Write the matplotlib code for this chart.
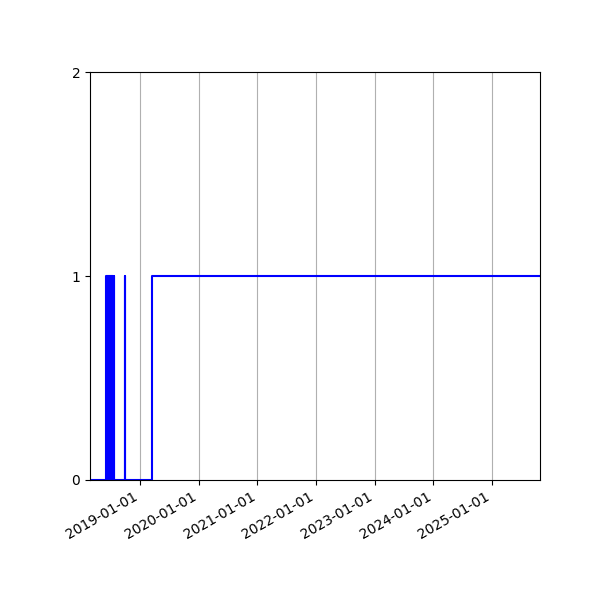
import matplotlib
matplotlib.use("Agg")
import matplotlib.pyplot as plt
import matplotlib.dates as mdates
import pandas as pd

change_dates = [
    "2018-02-24", "2018-06-05", "2018-06-08", "2018-06-11", "2018-06-14",
    "2018-06-17", "2018-06-20", "2018-06-23", "2018-06-26", "2018-06-29",
    "2018-07-02", "2018-07-05", "2018-07-08", "2018-07-11", "2018-07-14",
    "2018-07-17", "2018-07-20", "2018-07-23", "2018-07-25",
    "2018-09-28", "2018-10-01",
    "2019-03-15", "2025-10-25",
]
change_values = [
    0, 1, 0, 1, 0,
    1, 0, 1, 0, 1,
    0, 1, 0, 1, 0,
    1, 0, 1, 0,
    1, 0,
    1, 1,
]

x = pd.to_datetime(change_dates)

fig = plt.figure(figsize=(6, 6), dpi=100)
ax = fig.add_subplot(111)
ax.plot(x, change_values, color="blue", drawstyle="steps-post", linewidth=1.5)
ax.set_xlim(x[0], x[-1])
ax.set_ylim(0, 2)
ax.set_yticks([0, 1, 2])
ax.xaxis.set_major_locator(mdates.YearLocator())
ax.xaxis.set_major_formatter(mdates.DateFormatter("%Y-%m-%d"))
ax.grid(True, axis="x")
fig.autofmt_xdate()
fig.subplots_adjust(left=0.15, right=0.9, top=0.88, bottom=0.2)
fig.savefig("out.png", dpi=100)
